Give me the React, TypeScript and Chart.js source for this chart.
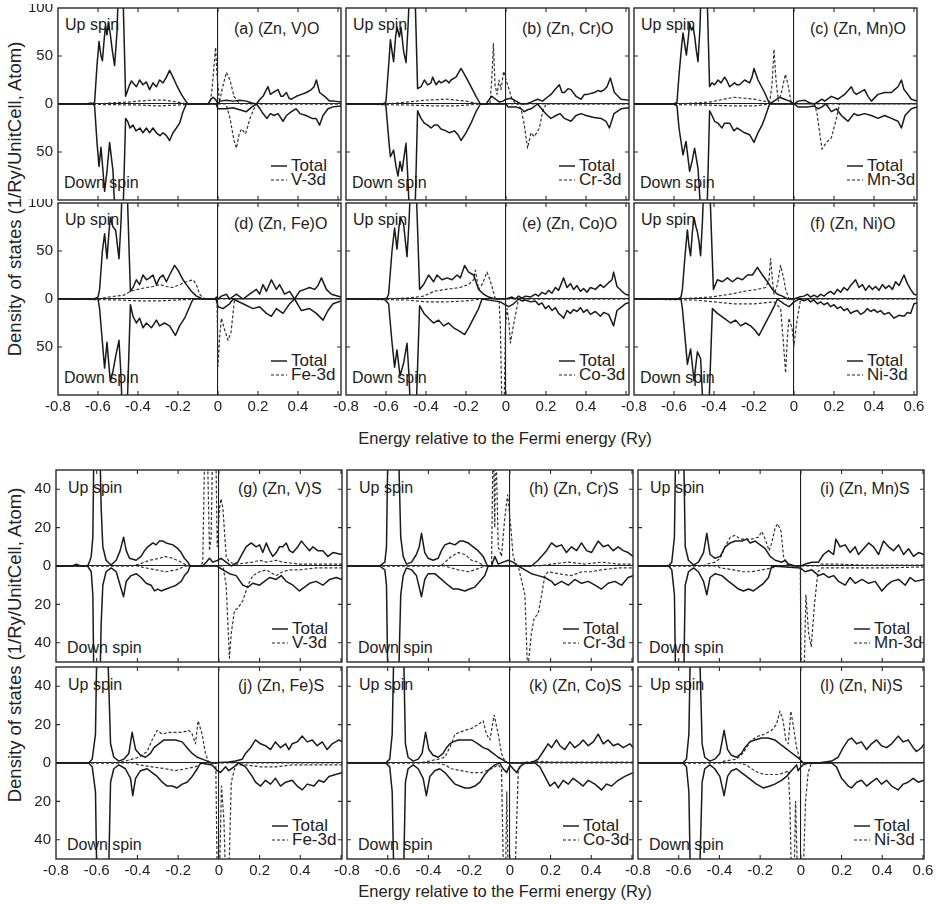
import React, { useEffect, useRef } from "react";
import { Chart, registerables } from "chart.js";

Chart.register(...registerables);

const FONT = '"Liberation Sans", Arial, Helvetica, sans-serif';
const INK = "#222";

// Axis ticks
const ENERGY_TICKS = [-0.8, -0.6, -0.4, -0.2, 0, 0.2, 0.4, 0.6];
const OXIDE_DOS_TICKS = [-100, -50, 0, 50, 100];
const SULFIDE_DOS_TICKS = [-40, -20, 0, 20, 40];

const DOPANTS = ["V", "Cr", "Mn", "Fe", "Co", "Ni"];
const OXIDE_LETTERS = ["a", "b", "c", "d", "e", "f"];
const SULFIDE_LETTERS = ["g", "h", "i", "j", "k", "l"];

// ---- DOS curves: [energy (Ry), states]; down-spin arrays hold magnitudes ----

// (Zn, V)O
const vO_totUp = [[-0.8,0],[-0.66,0],[-0.635,1],[-0.625,0],[-0.617,2],[-0.605,40],[-0.595,65],[-0.585,50],[-0.578,45],[-0.568,70],[-0.562,81],[-0.555,72],[-0.548,85],[-0.54,75],[-0.528,55],[-0.517,40],[-0.505,75],[-0.495,140],[-0.478,140],[-0.462,8],[-0.452,14],[-0.442,20],[-0.432,24],[-0.425,22],[-0.408,18],[-0.392,25],[-0.375,20],[-0.358,23],[-0.342,15],[-0.325,22],[-0.308,18],[-0.292,25],[-0.275,22],[-0.258,28],[-0.242,35],[-0.225,28],[-0.208,20],[-0.183,10],[-0.158,2],[-0.15,0],[-0.05,0],[-0.035,5],[-0.025,7],[-0.01,4],[0,0],[0.01,3],[0.042,4],[0.075,3],[0.108,4],[0.142,3],[0.17,1],[0.192,0],[0.21,5],[0.225,8],[0.25,18],[0.262,10],[0.275,12],[0.3,15],[0.315,8],[0.325,8],[0.342,12],[0.355,6],[0.367,5],[0.392,8],[0.417,10],[0.442,12],[0.467,15],[0.48,18],[0.492,25],[0.508,12],[0.533,8],[0.558,3],[0.58,3],[0.615,2]];
const vO_totDn = [[-0.8,0],[-0.625,0],[-0.617,2],[-0.605,40],[-0.595,65],[-0.585,45],[-0.575,70],[-0.567,91],[-0.555,70],[-0.542,40],[-0.525,70],[-0.51,140],[-0.478,140],[-0.462,15],[-0.452,18],[-0.44,25],[-0.425,22],[-0.41,28],[-0.39,25],[-0.375,30],[-0.358,25],[-0.342,30],[-0.325,25],[-0.308,30],[-0.29,33],[-0.275,30],[-0.258,33],[-0.242,38],[-0.225,30],[-0.208,25],[-0.192,20],[-0.175,8],[-0.158,0],[-0.01,0],[0,5],[0.042,5],[0.075,4],[0.108,6],[0.142,8],[0.17,3],[0.192,0],[0.21,5],[0.225,10],[0.245,15],[0.262,10],[0.28,12],[0.3,10],[0.325,18],[0.342,12],[0.367,8],[0.39,5],[0.41,10],[0.44,12],[0.47,15],[0.49,15],[0.508,22],[0.525,12],[0.55,5],[0.575,3],[0.615,2]];
const vO_3dUp = [[-0.8,0],[-0.6,0],[-0.55,1],[-0.45,2],[-0.4,3],[-0.33,4],[-0.27,4],[-0.2,2],[-0.15,0],[-0.04,0],[-0.03,15],[-0.012,59],[-0.005,30],[0.008,2],[0.02,15],[0.042,33],[0.06,25],[0.08,8],[0.108,0],[0.615,0]];
const vO_3dDn = [[-0.8,0],[-0.4,1],[-0.3,2],[-0.2,1],[-0.1,0],[0.04,0],[0.06,15],[0.08,38],[0.092,46],[0.105,32],[0.117,26],[0.138,31],[0.16,15],[0.19,0],[0.615,0]];

// (Zn, Cr)O
const crO_totUp = [[-0.8,0],[-0.62,0],[-0.605,1],[-0.6,3],[-0.585,45],[-0.578,67],[-0.57,55],[-0.562,44],[-0.552,70],[-0.545,80],[-0.533,70],[-0.525,80],[-0.512,55],[-0.5,43],[-0.49,80],[-0.478,140],[-0.458,140],[-0.442,16],[-0.425,18],[-0.408,25],[-0.392,20],[-0.375,22],[-0.367,28],[-0.35,20],[-0.335,24],[-0.325,22],[-0.3,25],[-0.285,22],[-0.275,25],[-0.25,28],[-0.225,37],[-0.2,28],[-0.175,18],[-0.15,8],[-0.128,0],[-0.1,0],[-0.083,5],[-0.07,8],[-0.058,6],[-0.033,2],[-0.015,3],[0,5],[0.025,6],[0.05,3],[0.075,0],[0.1,0],[0.125,2],[0.158,5],[0.183,3],[0.2,6],[0.225,10],[0.245,15],[0.267,20],[0.28,12],[0.292,12],[0.31,16],[0.325,15],[0.35,8],[0.375,5],[0.392,10],[0.408,10],[0.442,12],[0.46,14],[0.475,13],[0.492,15],[0.505,18],[0.522,27],[0.542,12],[0.575,5],[0.615,4]];
const crO_totDn = [[-0.8,0],[-0.605,0],[-0.6,3],[-0.585,40],[-0.578,55],[-0.562,48],[-0.55,65],[-0.54,75],[-0.53,60],[-0.52,70],[-0.5,41],[-0.49,80],[-0.478,140],[-0.458,140],[-0.442,7],[-0.425,15],[-0.408,20],[-0.392,22],[-0.375,25],[-0.358,22],[-0.342,22],[-0.325,26],[-0.3,28],[-0.283,30],[-0.258,28],[-0.24,32],[-0.225,38],[-0.2,30],[-0.175,20],[-0.15,8],[-0.128,0],[0,0],[0.01,3],[0.05,3],[0.075,5],[0.092,8],[0.108,6],[0.125,5],[0.158,0],[0.19,8],[0.208,12],[0.225,15],[0.25,12],[0.27,10],[0.292,15],[0.325,18],[0.35,12],[0.375,10],[0.4,12],[0.44,14],[0.475,15],[0.5,18],[0.517,25],[0.54,10],[0.575,5],[0.615,4]];
const crO_3dUp = [[-0.8,0],[-0.6,0],[-0.5,2],[-0.4,4],[-0.3,5],[-0.2,3],[-0.13,0],[-0.08,0],[-0.07,30],[-0.063,63],[-0.055,20],[-0.045,10],[-0.035,25],[-0.025,15],[-0.012,34],[0.008,20],[0.03,5],[0.05,0],[0.615,0]];
const crO_3dDn = [[-0.8,0],[-0.5,1],[-0.35,2],[-0.25,2],[-0.13,0],[0.06,0],[0.075,5],[0.09,20],[0.108,46],[0.125,30],[0.142,34],[0.167,25],[0.183,8],[0.2,0],[0.615,0]];

// (Zn, Mn)O
const mnO_totUp = [[-0.8,0],[-0.6,0],[-0.585,2],[-0.575,30],[-0.562,60],[-0.555,74],[-0.545,60],[-0.538,51],[-0.528,70],[-0.522,84],[-0.513,77],[-0.505,80],[-0.497,71],[-0.488,55],[-0.48,44],[-0.47,80],[-0.462,140],[-0.438,140],[-0.422,18],[-0.41,22],[-0.397,20],[-0.38,25],[-0.365,22],[-0.347,28],[-0.335,24],[-0.322,18],[-0.297,22],[-0.285,20],[-0.272,20],[-0.247,25],[-0.222,22],[-0.21,28],[-0.2,37],[-0.18,25],[-0.147,12],[-0.122,0],[-0.1,3],[-0.072,7],[-0.047,5],[-0.022,3],[0,0],[0.02,3],[0.053,4],[0.08,1],[0.103,0],[0.14,5],[0.153,3],[0.187,8],[0.22,5],[0.253,10],[0.287,18],[0.3,12],[0.312,10],[0.353,15],[0.37,8],[0.387,3],[0.42,10],[0.453,12],[0.487,12],[0.503,15],[0.52,18],[0.537,25],[0.55,15],[0.562,12],[0.587,5],[0.615,3]];
const mnO_totDn = [[-0.8,0],[-0.6,0],[-0.585,2],[-0.575,25],[-0.555,53],[-0.54,39],[-0.522,70],[-0.51,60],[-0.497,46],[-0.48,67],[-0.47,100],[-0.462,140],[-0.438,140],[-0.422,7],[-0.41,12],[-0.397,18],[-0.38,20],[-0.36,25],[-0.347,20],[-0.322,20],[-0.3,28],[-0.285,25],[-0.27,27],[-0.247,30],[-0.222,32],[-0.2,40],[-0.18,30],[-0.16,22],[-0.147,15],[-0.122,0],[0,0],[0.02,3],[0.07,3],[0.1,2],[0.12,5],[0.14,3],[0.16,0],[0.187,8],[0.212,5],[0.237,12],[0.253,15],[0.27,18],[0.3,10],[0.32,12],[0.353,10],[0.387,12],[0.42,15],[0.453,12],[0.487,15],[0.52,18],[0.537,25],[0.555,12],[0.587,5],[0.615,3]];
const mnO_3dUp = [[-0.8,0],[-0.6,0],[-0.5,1],[-0.42,2],[-0.35,5],[-0.3,7],[-0.25,6],[-0.2,5],[-0.15,3],[-0.122,2],[-0.11,20],[-0.1,57],[-0.09,25],[-0.078,3],[-0.065,10],[-0.043,31],[-0.03,20],[-0.013,0],[0.615,0]];
const mnO_3dDn = [[-0.8,0],[-0.45,1],[-0.3,2],[-0.2,2],[-0.122,0],[0.103,0],[0.115,10],[0.125,25],[0.14,47],[0.162,40],[0.187,35],[0.212,15],[0.228,0],[0.615,0]];

// (Zn, Fe)O
const feO_totUp = [[-0.8,0],[-0.62,0],[-0.6,2],[-0.592,10],[-0.578,50],[-0.567,68],[-0.555,42],[-0.545,70],[-0.538,85],[-0.525,75],[-0.512,72],[-0.495,42],[-0.485,80],[-0.475,140],[-0.458,140],[-0.438,8],[-0.425,12],[-0.408,20],[-0.392,15],[-0.375,25],[-0.358,20],[-0.342,22],[-0.325,25],[-0.308,15],[-0.292,22],[-0.275,25],[-0.258,18],[-0.242,25],[-0.217,35],[-0.2,30],[-0.175,20],[-0.158,15],[-0.133,8],[-0.108,3],[-0.075,0],[-0.015,0],[-0.008,2],[0,0],[0.017,3],[0.042,5],[0.058,0],[0.092,5],[0.125,0],[0.158,5],[0.192,10],[0.208,5],[0.225,15],[0.242,8],[0.267,20],[0.292,10],[0.308,15],[0.333,5],[0.358,8],[0.383,0],[0.408,8],[0.433,10],[0.458,12],[0.483,10],[0.5,14],[0.517,22],[0.542,10],[0.567,5],[0.615,2]];
const feO_totDn = [[-0.8,0],[-0.6,0],[-0.592,10],[-0.578,45],[-0.567,72],[-0.555,45],[-0.545,70],[-0.538,86],[-0.525,75],[-0.512,60],[-0.495,43],[-0.485,80],[-0.475,140],[-0.458,140],[-0.438,6],[-0.425,18],[-0.408,25],[-0.392,20],[-0.375,30],[-0.358,25],[-0.333,30],[-0.308,22],[-0.292,28],[-0.268,25],[-0.242,28],[-0.213,38],[-0.192,28],[-0.167,20],[-0.142,8],[-0.125,0],[-0.01,0],[0,8],[0.025,10],[0.058,5],[0.075,0],[0.125,5],[0.175,10],[0.208,8],[0.242,15],[0.267,18],[0.292,10],[0.325,15],[0.358,5],[0.383,0],[0.417,12],[0.458,10],[0.492,15],[0.525,22],[0.55,12],[0.575,5],[0.615,2]];
const feO_3dUp = [[-0.8,0],[-0.6,0],[-0.55,2],[-0.47,4],[-0.438,8],[-0.4,10],[-0.358,12],[-0.325,13],[-0.292,15],[-0.258,13],[-0.225,12],[-0.192,15],[-0.158,18],[-0.125,20],[-0.108,15],[-0.092,5],[-0.067,0],[0.615,0]];
const feO_3dDn = [[-0.8,0],[-0.5,1],[-0.4,2],[-0.3,2],[-0.2,1],[-0.1,0],[-0.005,0],[0,70],[0.008,40],[0.017,20],[0.03,30],[0.05,43],[0.065,35],[0.083,0],[0.615,0]];

// (Zn, Co)O
const coO_totUp = [[-0.8,0],[-0.61,0],[-0.595,1],[-0.587,5],[-0.57,50],[-0.557,74],[-0.545,52],[-0.535,75],[-0.528,85],[-0.512,78],[-0.495,44],[-0.485,80],[-0.473,140],[-0.453,140],[-0.432,10],[-0.412,15],[-0.387,25],[-0.362,18],[-0.345,25],[-0.32,20],[-0.295,22],[-0.27,20],[-0.245,25],[-0.228,22],[-0.207,35],[-0.187,28],[-0.162,25],[-0.137,10],[-0.112,5],[-0.087,2],[-0.053,0],[0,0],[0.03,2],[0.047,0],[0.063,3],[0.08,1],[0.097,3],[0.122,2],[0.147,5],[0.163,3],[0.18,7],[0.197,5],[0.213,9],[0.23,6],[0.247,12],[0.263,9],[0.288,22],[0.305,12],[0.322,16],[0.338,10],[0.355,14],[0.372,8],[0.388,11],[0.405,7],[0.422,12],[0.447,10],[0.472,15],[0.488,12],[0.513,17],[0.53,20],[0.538,28],[0.555,13],[0.58,8],[0.597,5],[0.615,4]];
const coO_totDn = [[-0.8,0],[-0.61,0],[-0.587,5],[-0.57,45],[-0.557,71],[-0.545,53],[-0.53,80],[-0.512,67],[-0.495,46],[-0.485,80],[-0.473,140],[-0.453,140],[-0.432,7],[-0.41,15],[-0.387,20],[-0.362,25],[-0.337,22],[-0.312,28],[-0.287,25],[-0.262,30],[-0.237,33],[-0.207,37],[-0.187,30],[-0.162,20],[-0.137,10],[-0.12,0],[-0.028,3],[-0.012,5],[0.013,8],[0.038,5],[0.063,0],[0.08,2],[0.097,1],[0.122,3],[0.147,2],[0.163,6],[0.18,4],[0.197,10],[0.213,7],[0.23,12],[0.247,9],[0.263,15],[0.28,18],[0.288,20],[0.305,12],[0.322,15],[0.338,11],[0.355,13],[0.372,9],[0.388,14],[0.405,11],[0.422,16],[0.447,13],[0.472,18],[0.488,14],[0.513,16],[0.538,28],[0.555,12],[0.58,8],[0.597,5],[0.615,4]];
const coO_3dUp = [[-0.8,0],[-0.6,0],[-0.5,1],[-0.45,2],[-0.41,3],[-0.36,8],[-0.3,10],[-0.23,12],[-0.187,15],[-0.162,20],[-0.153,30],[-0.137,10],[-0.12,15],[-0.095,28],[-0.08,20],[-0.053,0],[0.615,0]];
const coO_3dDn = [[-0.8,0],[-0.5,1],[-0.4,3],[-0.3,3],[-0.2,2],[-0.12,0],[-0.035,0],[-0.028,30],[-0.02,120],[-0.01,120],[-0.003,30],[0.005,10],[0.015,25],[0.022,46],[0.035,30],[0.063,0],[0.615,0]];

// (Zn, Ni)O
const niO_totUp = [[-0.8,0],[-0.58,0],[-0.565,2],[-0.558,10],[-0.545,45],[-0.533,72],[-0.525,55],[-0.517,45],[-0.508,70],[-0.5,85],[-0.49,75],[-0.483,70],[-0.475,60],[-0.467,45],[-0.458,80],[-0.447,140],[-0.425,140],[-0.403,10],[-0.383,20],[-0.358,18],[-0.333,22],[-0.308,18],[-0.283,22],[-0.258,20],[-0.233,25],[-0.208,25],[-0.183,33],[-0.158,25],[-0.133,18],[-0.108,10],[-0.083,5],[-0.058,3],[-0.033,0],[0,0],[0.025,2],[0.05,3],[0.067,5],[0.083,2],[0.1,4],[0.117,2],[0.133,5],[0.15,3],[0.167,6],[0.183,8],[0.2,5],[0.217,10],[0.233,7],[0.25,12],[0.267,9],[0.283,14],[0.308,20],[0.325,12],[0.342,15],[0.358,9],[0.375,14],[0.392,10],[0.408,13],[0.425,9],[0.442,15],[0.458,11],[0.475,14],[0.492,10],[0.508,18],[0.525,14],[0.55,25],[0.567,16],[0.583,10],[0.6,5],[0.615,4]];
const niO_totDn = [[-0.8,0],[-0.565,0],[-0.558,10],[-0.545,40],[-0.533,68],[-0.517,52],[-0.505,75],[-0.5,85],[-0.483,55],[-0.467,62],[-0.458,100],[-0.45,140],[-0.43,140],[-0.408,10],[-0.383,15],[-0.35,20],[-0.317,25],[-0.292,22],[-0.267,28],[-0.242,25],[-0.217,28],[-0.197,32],[-0.175,38],[-0.15,28],[-0.125,18],[-0.1,8],[-0.083,0],[-0.05,5],[-0.025,8],[0,3],[0.025,0],[0.05,2],[0.067,0],[0.083,3],[0.1,1],[0.117,5],[0.133,3],[0.15,6],[0.167,4],[0.183,8],[0.2,6],[0.217,10],[0.233,8],[0.25,12],[0.267,10],[0.283,15],[0.3,13],[0.317,12],[0.333,16],[0.35,14],[0.367,10],[0.383,13],[0.4,11],[0.417,14],[0.433,12],[0.45,16],[0.475,14],[0.5,20],[0.525,17],[0.55,18],[0.567,14],[0.583,15],[0.6,5],[0.615,4]];
const niO_3dUp = [[-0.8,0],[-0.6,0],[-0.5,1],[-0.42,2],[-0.383,3],[-0.317,5],[-0.25,8],[-0.183,10],[-0.142,12],[-0.125,20],[-0.117,42],[-0.108,20],[-0.1,5],[-0.083,15],[-0.067,35],[-0.05,20],[-0.042,10],[-0.025,0],[0.615,0]];
const niO_3dDn = [[-0.8,0],[-0.5,1],[-0.4,3],[-0.3,5],[-0.2,5],[-0.1,3],[-0.067,10],[-0.055,40],[-0.042,77],[-0.033,40],[-0.025,20],[-0.01,30],[0,49],[0.01,30],[0.017,20],[0.033,0],[0.615,0]];

// (Zn, V)S
const vS_totUp = [[-0.8,0],[-0.72,0],[-0.7,1],[-0.68,0],[-0.645,0],[-0.636,2],[-0.627,5],[-0.619,15],[-0.613,70],[-0.586,70],[-0.578,30],[-0.57,10],[-0.554,3],[-0.529,0.5],[-0.504,3],[-0.485,8],[-0.468,15],[-0.455,8],[-0.439,4],[-0.406,3],[-0.382,5],[-0.365,8],[-0.349,10],[-0.324,12],[-0.308,11],[-0.292,13],[-0.275,13],[-0.259,12],[-0.226,11],[-0.201,9],[-0.185,7],[-0.169,4],[-0.152,2],[-0.141,0],[-0.079,0],[-0.062,2],[-0.046,4],[-0.029,2],[-0.005,3],[0.011,4],[0.036,2],[0.061,0],[0.093,2],[0.118,7],[0.134,10],[0.159,12],[0.183,10],[0.2,11],[0.216,7],[0.233,12],[0.249,8],[0.265,5],[0.282,7],[0.298,10],[0.314,10],[0.331,12],[0.347,8],[0.364,7],[0.388,10],[0.405,13],[0.421,11],[0.446,8],[0.462,10],[0.486,8],[0.511,8],[0.536,5],[0.56,7],[0.605,6]];
const vS_totDn = [[-0.8,0],[-0.645,0],[-0.627,3],[-0.619,15],[-0.613,70],[-0.586,70],[-0.578,30],[-0.57,10],[-0.554,3],[-0.529,1],[-0.504,3],[-0.485,10],[-0.468,16],[-0.455,8],[-0.431,5],[-0.406,4],[-0.382,6],[-0.357,9],[-0.333,10],[-0.316,13],[-0.3,12],[-0.283,13],[-0.259,12],[-0.234,11],[-0.21,10],[-0.185,8],[-0.169,5],[-0.152,3],[-0.141,0],[-0.01,0],[0.02,2],[0.052,4],[0.085,5],[0.118,10],[0.143,11],[0.167,9],[0.2,10],[0.224,8],[0.249,6],[0.282,7],[0.306,5],[0.331,8],[0.364,10],[0.396,13],[0.421,11],[0.446,9],[0.478,8],[0.511,10],[0.544,7],[0.577,6],[0.605,7]];
const vS_3dUp = [[-0.8,0],[-0.43,0],[-0.39,1],[-0.34,3],[-0.29,4],[-0.267,5],[-0.226,4],[-0.185,2],[-0.152,0],[-0.09,0],[-0.079,2],[-0.068,70],[-0.058,70],[-0.046,8],[-0.038,15],[-0.029,70],[-0.016,70],[-0.008,10],[0.003,30],[0.011,35],[0.02,30],[0.036,5],[0.052,2],[0.085,1],[0.167,2],[0.2,3],[0.233,2],[0.282,3],[0.314,2],[0.396,1],[0.478,1],[0.605,1]];
const vS_3dDn = [[-0.8,0],[-0.4,0],[-0.36,1],[-0.31,2],[-0.26,3],[-0.21,2],[-0.161,0],[0.02,0],[0.036,10],[0.052,48],[0.061,35],[0.077,23],[0.093,22],[0.118,18],[0.143,10],[0.167,5],[0.2,3],[0.233,2],[0.282,5],[0.314,3],[0.347,2],[0.396,2],[0.478,1],[0.605,1]];

// (Zn, Cr)S
const crS_totUp = [[-0.8,0],[-0.64,0],[-0.614,2],[-0.606,10],[-0.598,70],[-0.549,70],[-0.536,15],[-0.524,5],[-0.508,1],[-0.483,2],[-0.459,6],[-0.445,10],[-0.434,17],[-0.418,7],[-0.401,4],[-0.377,3],[-0.352,4],[-0.336,8],[-0.319,11],[-0.295,12],[-0.27,11],[-0.246,13],[-0.229,13],[-0.205,12],[-0.18,10],[-0.156,8],[-0.131,5],[-0.11,0],[-0.09,0],[-0.074,5],[-0.057,1],[-0.033,2],[-0.008,3],[0.016,2],[0.041,0],[0.106,0],[0.139,3],[0.18,8],[0.205,12],[0.229,10],[0.254,11],[0.278,7],[0.303,10],[0.328,8],[0.352,12],[0.377,8],[0.401,7],[0.434,13],[0.459,10],[0.483,11],[0.508,8],[0.532,10],[0.557,8],[0.581,7],[0.605,5]];
const crS_totDn = [[-0.8,0],[-0.64,0],[-0.614,2],[-0.606,10],[-0.598,70],[-0.549,70],[-0.536,15],[-0.524,5],[-0.508,1],[-0.483,2],[-0.459,5],[-0.434,16],[-0.418,7],[-0.401,4],[-0.369,4],[-0.336,7],[-0.303,10],[-0.278,12],[-0.254,12],[-0.221,13],[-0.197,12],[-0.172,11],[-0.147,8],[-0.123,5],[-0.106,0],[0.041,0],[0.074,2],[0.106,4],[0.139,5],[0.172,6],[0.205,8],[0.221,10],[0.254,8],[0.287,10],[0.319,7],[0.352,9],[0.385,8],[0.418,10],[0.45,12],[0.483,9],[0.516,8],[0.549,10],[0.581,6],[0.605,5]];
const crS_3dUp = [[-0.8,0],[-0.34,0],[-0.319,2],[-0.287,5],[-0.254,7],[-0.221,6],[-0.188,3],[-0.156,2],[-0.123,0],[-0.09,0],[-0.082,70],[-0.074,20],[-0.07,70],[-0.057,10],[-0.041,5],[-0.025,25],[-0.011,37],[0.005,20],[0.016,5],[0.033,0],[0.139,0],[0.205,1],[0.287,2],[0.369,1],[0.45,2],[0.532,1],[0.605,1]];
const crS_3dDn = [[-0.8,0],[-0.32,0],[-0.254,2],[-0.205,3],[-0.172,2],[-0.123,0],[0.041,0],[0.074,15],[0.087,55],[0.106,35],[0.12,27],[0.139,25],[0.156,15],[0.172,5],[0.188,3],[0.238,4],[0.303,5],[0.352,3],[0.401,3],[0.45,2],[0.532,1],[0.605,1]];

// (Zn, Mn)S
const mnS_totUp = [[-0.8,0],[-0.65,0],[-0.634,2],[-0.621,15],[-0.614,70],[-0.577,70],[-0.568,10],[-0.552,3],[-0.527,0.5],[-0.503,2],[-0.478,7],[-0.462,17],[-0.446,6],[-0.421,4],[-0.396,5],[-0.372,10],[-0.347,12],[-0.323,13],[-0.29,13],[-0.265,14],[-0.249,12],[-0.224,13],[-0.2,11],[-0.175,9],[-0.151,5],[-0.126,3],[-0.093,2],[-0.077,3],[-0.061,1],[-0.028,0],[0,0],[0.021,1],[0.054,2],[0.087,2],[0.111,6],[0.136,8],[0.161,6],[0.172,14],[0.193,10],[0.218,11],[0.242,7],[0.267,10],[0.283,6],[0.308,9],[0.333,12],[0.357,10],[0.382,6],[0.406,13],[0.431,10],[0.455,8],[0.48,11],[0.505,6],[0.529,9],[0.554,5],[0.578,7],[0.605,6]];
const mnS_totDn = [[-0.8,0],[-0.65,0],[-0.634,2],[-0.621,15],[-0.614,70],[-0.577,70],[-0.568,10],[-0.552,3],[-0.527,1],[-0.503,3],[-0.478,8],[-0.462,15],[-0.446,6],[-0.421,4],[-0.388,5],[-0.355,8],[-0.331,10],[-0.306,12],[-0.282,13],[-0.257,12],[-0.233,13],[-0.208,11],[-0.183,9],[-0.159,6],[-0.143,0],[-0.003,1],[0.021,3],[0.054,2],[0.087,5],[0.111,4],[0.136,6],[0.161,5],[0.185,8],[0.218,10],[0.242,6],[0.267,9],[0.3,7],[0.333,9],[0.365,8],[0.398,13],[0.423,10],[0.447,8],[0.48,7],[0.513,10],[0.537,6],[0.562,8],[0.605,7]];
const mnS_3dUp = [[-0.8,0],[-0.48,0],[-0.462,1],[-0.421,2],[-0.396,4],[-0.372,10],[-0.347,15],[-0.323,16],[-0.298,14],[-0.274,14],[-0.241,14],[-0.208,15],[-0.192,18],[-0.175,14],[-0.156,8],[-0.143,12],[-0.126,20],[-0.113,22],[-0.097,18],[-0.085,5],[-0.069,1],[-0.044,0],[0.087,0],[0.1,1],[0.185,1],[0.3,0.5],[0.605,0.5]];
const mnS_3dDn = [[-0.8,0],[-0.41,0],[-0.396,1],[-0.331,2],[-0.282,3],[-0.241,3],[-0.192,2],[-0.143,1],[-0.11,0],[-0.003,0],[0.002,60],[0.015,60],[0.025,15],[0.038,35],[0.051,42],[0.067,20],[0.084,3],[0.103,1],[0.2,1],[0.4,1],[0.605,0.5]];

// (Zn, Fe)S
const feS_totUp = [[-0.8,0],[-0.64,0],[-0.622,2],[-0.606,15],[-0.598,70],[-0.549,70],[-0.532,10],[-0.516,3],[-0.491,1],[-0.467,2],[-0.442,5],[-0.426,16],[-0.409,7],[-0.385,4],[-0.36,3],[-0.336,5],[-0.319,8],[-0.295,10],[-0.27,12],[-0.246,12],[-0.213,12],[-0.18,11],[-0.156,8],[-0.131,5],[-0.106,3],[-0.082,2],[-0.057,1],[-0.033,0],[0.049,0.5],[0.082,1],[0.115,2],[0.131,5],[0.156,8],[0.18,12],[0.205,10],[0.229,9],[0.254,7],[0.278,11],[0.303,8],[0.328,10],[0.344,7],[0.36,10],[0.385,11],[0.41,14],[0.434,11],[0.459,12],[0.483,9],[0.508,11],[0.532,7],[0.557,10],[0.59,12],[0.605,11]];
const feS_totDn = [[-0.8,0],[-0.64,0],[-0.622,2],[-0.606,15],[-0.598,70],[-0.544,70],[-0.532,10],[-0.516,3],[-0.491,1],[-0.459,3],[-0.434,8],[-0.423,17],[-0.409,8],[-0.385,4],[-0.352,3],[-0.328,5],[-0.303,7],[-0.278,10],[-0.254,12],[-0.229,12],[-0.205,13],[-0.18,11],[-0.156,10],[-0.131,7],[-0.106,3],[-0.09,0],[-0.033,1],[-0.008,4],[0.008,5],[0.033,2],[0.049,4],[0.074,2],[0.098,0],[0.131,2],[0.164,7],[0.18,10],[0.205,12],[0.229,9],[0.254,11],[0.278,8],[0.303,12],[0.328,10],[0.36,9],[0.385,12],[0.41,14],[0.434,11],[0.467,12],[0.491,9],[0.516,10],[0.541,7],[0.573,6],[0.605,5]];
const feS_3dUp = [[-0.8,0],[-0.5,0],[-0.459,1],[-0.426,2],[-0.393,3],[-0.352,6],[-0.328,12],[-0.303,17],[-0.278,15],[-0.246,16],[-0.213,16],[-0.18,16],[-0.147,17],[-0.131,15],[-0.115,10],[-0.102,22],[-0.082,15],[-0.066,5],[-0.049,0],[0.605,0]];
const feS_3dDn = [[-0.8,0],[-0.42,0],[-0.393,1],[-0.328,2],[-0.262,3],[-0.213,4],[-0.164,3],[-0.115,2],[-0.082,0],[-0.015,0],[-0.008,60],[0.003,60],[0.013,12],[0.025,30],[0.033,60],[0.049,60],[0.061,10],[0.082,1],[0.131,1],[0.205,2],[0.278,2],[0.36,1],[0.605,1]];

// (Zn, Co)S
const coS_totUp = [[-0.8,0],[-0.61,0],[-0.59,2],[-0.578,15],[-0.568,70],[-0.524,70],[-0.513,10],[-0.5,3],[-0.475,1],[-0.45,2],[-0.431,5],[-0.414,16],[-0.398,7],[-0.377,4],[-0.352,3],[-0.328,5],[-0.311,8],[-0.295,10],[-0.278,11],[-0.254,12],[-0.221,12],[-0.188,12],[-0.156,10],[-0.131,8],[-0.106,7],[-0.082,5],[-0.057,3],[-0.041,2],[-0.025,1],[-0.008,0],[0.106,0],[0.139,2],[0.164,6],[0.188,10],[0.205,8],[0.229,12],[0.246,9],[0.27,7],[0.295,11],[0.319,8],[0.344,10],[0.36,12],[0.385,9],[0.41,11],[0.434,15],[0.459,10],[0.483,12],[0.508,9],[0.532,10],[0.557,8],[0.59,10],[0.605,8]];
const coS_totDn = [[-0.8,0],[-0.61,0],[-0.59,2],[-0.578,15],[-0.568,70],[-0.524,70],[-0.513,10],[-0.5,3],[-0.475,1],[-0.45,3],[-0.426,8],[-0.41,17],[-0.393,7],[-0.369,4],[-0.344,3],[-0.319,5],[-0.295,8],[-0.27,11],[-0.246,12],[-0.221,13],[-0.197,13],[-0.172,12],[-0.147,10],[-0.123,6],[-0.098,3],[-0.074,1],[-0.049,0],[-0.033,3],[-0.016,5],[0,1],[0.016,3],[0.033,5],[0.049,2],[0.074,0],[0.123,0],[0.147,2],[0.172,7],[0.197,12],[0.221,10],[0.238,13],[0.262,9],[0.287,11],[0.311,8],[0.336,10],[0.36,12],[0.385,9],[0.418,11],[0.45,14],[0.475,11],[0.5,12],[0.532,9],[0.565,7],[0.605,5]];
const coS_3dUp = [[-0.8,0],[-0.45,0],[-0.398,1],[-0.352,2],[-0.319,3],[-0.287,10],[-0.27,15],[-0.246,16],[-0.221,17],[-0.188,18],[-0.156,20],[-0.131,22],[-0.115,15],[-0.098,12],[-0.077,25],[-0.057,15],[-0.041,5],[-0.025,1],[-0.008,0],[0.041,0],[0.123,1],[0.205,0.5],[0.605,0.5]];
const coS_3dDn = [[-0.8,0],[-0.35,0],[-0.319,1],[-0.287,3],[-0.238,4],[-0.188,5],[-0.139,5],[-0.09,3],[-0.057,1],[-0.041,3],[-0.031,60],[-0.021,60],[-0.015,15],[-0.008,60],[0.025,60],[0.041,5],[0.057,0],[0.605,0]];

// (Zn, Ni)S
const niS_totUp = [[-0.8,0],[-0.58,0],[-0.562,2],[-0.55,15],[-0.541,70],[-0.5,70],[-0.485,10],[-0.472,3],[-0.447,1],[-0.423,2],[-0.398,5],[-0.377,17],[-0.36,7],[-0.341,4],[-0.316,3],[-0.292,5],[-0.275,8],[-0.251,11],[-0.226,12],[-0.193,13],[-0.161,13],[-0.128,12],[-0.103,10],[-0.079,8],[-0.054,6],[-0.029,4],[-0.005,2],[0.011,0],[0.085,0],[0.151,1],[0.183,3],[0.208,8],[0.233,12],[0.249,13],[0.274,10],[0.298,11],[0.323,7],[0.347,10],[0.372,12],[0.396,9],[0.421,8],[0.446,10],[0.478,14],[0.503,11],[0.527,12],[0.552,8],[0.568,6],[0.593,8],[0.605,10]];
const niS_totDn = [[-0.8,0],[-0.58,0],[-0.562,2],[-0.55,15],[-0.541,70],[-0.5,70],[-0.485,10],[-0.472,3],[-0.447,1],[-0.423,3],[-0.398,7],[-0.377,17],[-0.36,7],[-0.341,4],[-0.316,3],[-0.292,5],[-0.267,7],[-0.242,9],[-0.218,11],[-0.185,13],[-0.152,12],[-0.128,11],[-0.095,9],[-0.07,7],[-0.054,5],[-0.038,3],[-0.021,1],[-0.013,4],[0,2],[0.011,1],[0.036,0],[0.151,0],[0.175,2],[0.2,8],[0.233,12],[0.249,13],[0.274,10],[0.298,9],[0.323,12],[0.347,10],[0.372,8],[0.396,11],[0.421,9],[0.446,12],[0.478,14],[0.503,11],[0.527,10],[0.552,8],[0.577,10],[0.605,9]];
const niS_3dUp = [[-0.8,0],[-0.4,0],[-0.377,1],[-0.316,2],[-0.285,5],[-0.267,8],[-0.242,12],[-0.21,14],[-0.177,15],[-0.144,17],[-0.12,20],[-0.103,27],[-0.087,22],[-0.074,12],[-0.062,10],[-0.049,27],[-0.038,20],[-0.021,8],[-0.005,2],[0.011,0],[0.605,0]];
const niS_3dDn = [[-0.8,0],[-0.3,0],[-0.267,1],[-0.242,3],[-0.21,5],[-0.177,6],[-0.144,6],[-0.111,6],[-0.079,5],[-0.062,4],[-0.054,20],[-0.046,60],[-0.033,60],[-0.026,20],[-0.016,60],[0.011,60],[0.023,20],[0.036,5],[0.052,0],[0.605,0]];

const OXIDE_DATA = [
  [vO_totUp, vO_totDn, vO_3dUp, vO_3dDn],
  [crO_totUp, crO_totDn, crO_3dUp, crO_3dDn],
  [mnO_totUp, mnO_totDn, mnO_3dUp, mnO_3dDn],
  [feO_totUp, feO_totDn, feO_3dUp, feO_3dDn],
  [coO_totUp, coO_totDn, coO_3dUp, coO_3dDn],
  [niO_totUp, niO_totDn, niO_3dUp, niO_3dDn],
];
const SULFIDE_DATA = [
  [vS_totUp, vS_totDn, vS_3dUp, vS_3dDn],
  [crS_totUp, crS_totDn, crS_3dUp, crS_3dDn],
  [mnS_totUp, mnS_totDn, mnS_3dUp, mnS_3dDn],
  [feS_totUp, feS_totDn, feS_3dUp, feS_3dDn],
  [coS_totUp, coS_totDn, coS_3dUp, coS_3dDn],
  [niS_totUp, niS_totDn, niS_3dUp, niS_3dDn],
];

// ---- layout of the two panel groups (page pixels) ----
const GROUPS = [
  {
    anion: "O", letters: OXIDE_LETTERS, data: OXIDE_DATA,
    cols: [58, 346, 634], rows: [8, 203], w: 283, h: 192,
    xMax: 0.615, yLim: 100, yTicks: OXIDE_DOS_TICKS,
    spinDx: 7, upDy: 17, downDy: 17, titleDx: 176, titleDy: 21, legendDy: [34, 20],
    xTitleY: 438, yTitleCy: 199,
  },
  {
    anion: "S", letters: SULFIDE_LETTERS, data: SULFIDE_DATA,
    cols: [56, 347, 638], rows: [470, 667], w: 286, h: 192,
    xMax: 0.605, yLim: 50, yTicks: SULFIDE_DOS_TICKS,
    spinDx: 12, upDy: 18, downDy: 14, titleDx: 182, titleDy: 19, legendDy: [33, 19],
    xTitleY: 891, yTitleCy: 645,
  },
];

// Canvas margins around each plot area; the left/bottom ones hold the tick labels
const PAD = { l: 50, r: 18, t: 4, b: 26 };
const TICK_FONT = { family: FONT, size: 15 };

// Frame with inward tick marks on all four sides
const framePlugin = {
  id: "dosFrame",
  afterDraw(chart) {
    const { ctx, chartArea: a, scales } = chart;
    const xs = scales.x;
    const ys = scales.y;
    ctx.save();
    ctx.strokeStyle = "#2a2a2a";
    ctx.lineWidth = 1.1;
    ctx.beginPath();
    for (const t of xs.ticks) {
      const px = xs.getPixelForValue(t.value);
      if (px <= a.left + 1 || px >= a.right - 1) continue;
      ctx.moveTo(px, a.top);
      ctx.lineTo(px, a.top + 4);
      ctx.moveTo(px, a.bottom);
      ctx.lineTo(px, a.bottom - 4);
    }
    for (const t of ys.ticks) {
      if (t.value === 0) continue;
      const py = ys.getPixelForValue(t.value);
      if (py <= a.top + 1 || py >= a.bottom - 1) continue;
      ctx.moveTo(a.left, py);
      ctx.lineTo(a.left + 4, py);
      ctx.moveTo(a.right, py);
      ctx.lineTo(a.right - 4, py);
    }
    ctx.stroke();
    ctx.lineWidth = 1.4;
    ctx.strokeRect(a.left, a.top, a.right - a.left, a.bottom - a.top);
    ctx.restore();
  },
};

function curve(points, sign, dashed) {
  return {
    data: points.map(([x, y]) => ({ x, y: sign * y })),
    parsing: false,
    borderColor: dashed ? "#333" : "#1a1a1a",
    borderWidth: dashed ? 1.2 : 1.5,
    borderDash: dashed ? [3, 2] : [],
    borderJoinStyle: "round",
    pointRadius: 0,
    tension: 0,
    fill: false,
  };
}

function buildConfig(group, index) {
  const [totUp, totDn, dUp, dDn] = group.data[index];
  const col = index % 3;
  const row = Math.floor(index / 3);
  const showX = row === 1;
  const showY = col === 0;
  const lastCol = col === 2;
  const zeroLine = (ctx) => (ctx.tick && ctx.tick.value === 0 ? "#1e1e1e" : "rgba(0,0,0,0)");
  return {
    type: "line",
    data: {
      datasets: [
        curve(totUp, 1, false),
        curve(totDn, -1, false),
        curve(dUp, 1, true),
        curve(dDn, -1, true),
      ],
    },
    options: {
      animation: false,
      responsive: false,
      maintainAspectRatio: false,
      events: [],
      layout: { padding: { left: 0, right: PAD.r, top: PAD.t, bottom: 0 } },
      plugins: { legend: { display: false }, tooltip: { enabled: false }, title: { display: false } },
      scales: {
        x: {
          type: "linear",
          min: -0.8,
          max: group.xMax,
          afterBuildTicks: (s) => { s.ticks = ENERGY_TICKS.map((v) => ({ value: v })); },
          afterFit: (s) => { s.height = PAD.b; s.paddingLeft = 0; s.paddingRight = 0; },
          border: { display: false },
          grid: { drawTicks: false, color: zeroLine, lineWidth: 1.1 },
          ticks: {
            display: showX,
            autoSkip: false,
            maxRotation: 0,
            minRotation: 0,
            padding: 3,
            color: INK,
            font: TICK_FONT,
            callback: (v) => (v > 0.5 && !lastCol ? "" : String(v)),
          },
        },
        y: {
          type: "linear",
          min: -group.yLim,
          max: group.yLim,
          afterBuildTicks: (s) => { s.ticks = group.yTicks.map((v) => ({ value: v })); },
          afterFit: (s) => { s.width = PAD.l; s.paddingTop = 0; s.paddingBottom = 0; },
          border: { display: false },
          grid: { drawTicks: false, color: zeroLine, lineWidth: 1.1 },
          ticks: {
            display: showY,
            autoSkip: false,
            padding: 5,
            color: INK,
            font: TICK_FONT,
            callback: (v) => (v === -group.yLim ? "" : String(Math.abs(v))),
          },
        },
      },
    },
    plugins: [framePlugin],
  };
}

function DosPanel({ group, index }) {
  const ref = useRef(null);
  useEffect(() => {
    const chart = new Chart(ref.current, buildConfig(group, index));
    return () => chart.destroy();
  }, [group, index]);
  const col = index % 3;
  const row = Math.floor(index / 3);
  const left = group.cols[col] - PAD.l;
  const top = group.rows[row] - PAD.t;
  const width = group.w + PAD.l + PAD.r;
  const height = group.h + PAD.t + PAD.b;
  return (
    <canvas
      ref={ref}
      width={width}
      height={height}
      style={{ position: "absolute", left, top, width, height }}
    />
  );
}

function Label({ x, cy, size, children }) {
  return (
    <div
      style={{
        position: "absolute",
        left: x,
        top: cy,
        transform: "translateY(-50%)",
        fontSize: size,
        lineHeight: 1.15,
        whiteSpace: "nowrap",
        color: INK,
      }}
    >
      {children}
    </div>
  );
}

function KeySample({ x, cy, dashed }) {
  return (
    <svg style={{ position: "absolute", left: x, top: cy - 2 }} width={16} height={4}>
      <line x1={0} y1={2} x2={16} y2={2} stroke={INK} strokeWidth={dashed ? 1.2 : 1.5}
        strokeDasharray={dashed ? "3,2" : undefined} />
    </svg>
  );
}

function PanelText({ group, index }) {
  const col = index % 3;
  const row = Math.floor(index / 3);
  const x0 = group.cols[col];
  const y0 = group.rows[row];
  const x1 = x0 + group.w;
  const y1 = y0 + group.h;
  const title = `(${group.letters[index]}) (Zn, ${DOPANTS[index]})${group.anion}`;
  const keyX = x1 - 50;
  return (
    <>
      <Label x={x0 + group.spinDx} cy={y0 + group.upDy} size={16}>Up spin</Label>
      <Label x={x0 + group.spinDx - 1} cy={y1 - group.downDy} size={16}>Down spin</Label>
      <Label x={x0 + group.titleDx} cy={y0 + group.titleDy} size={16}>{title}</Label>
      <KeySample x={keyX - 20} cy={y1 - group.legendDy[0]} dashed={false} />
      <Label x={keyX} cy={y1 - group.legendDy[0]} size={17}>Total</Label>
      <KeySample x={keyX - 20} cy={y1 - group.legendDy[1]} dashed={true} />
      <Label x={keyX} cy={y1 - group.legendDy[1]} size={17}>{`${DOPANTS[index]}-3d`}</Label>
    </>
  );
}

function AxisTitles({ group }) {
  return (
    <>
      <div
        style={{
          position: "absolute", left: 505, top: group.xTitleY,
          transform: "translate(-50%, -50%)", fontSize: 16.5, whiteSpace: "nowrap", color: INK,
        }}
      >
        Energy relative to the Fermi energy (Ry)
      </div>
      <div
        style={{
          position: "absolute", left: 15, top: group.yTitleCy,
          transform: "translate(-50%, -50%) rotate(-90deg)", fontSize: 18.5, whiteSpace: "nowrap", color: INK,
        }}
      >
        Density of states (1/Ry/UnitCell, Atom)
      </div>
    </>
  );
}

export default function App() {
  const idx = [0, 1, 2, 3, 4, 5];
  return (
    <div
      style={{
        position: "absolute", left: 0, top: 0, width: 944, height: 904,
        background: "#fff", fontFamily: FONT, overflow: "hidden",
      }}
    >
      {GROUPS.map((g) => (
        <React.Fragment key={`t-${g.anion}`}>
          <AxisTitles group={g} />
          {idx.map((i) => <PanelText key={`l-${g.anion}-${i}`} group={g} index={i} />)}
        </React.Fragment>
      ))}
      {GROUPS.map((g) =>
        idx.map((i) => <DosPanel key={`c-${g.anion}-${i}`} group={g} index={i} />)
      )}
    </div>
  );
}
